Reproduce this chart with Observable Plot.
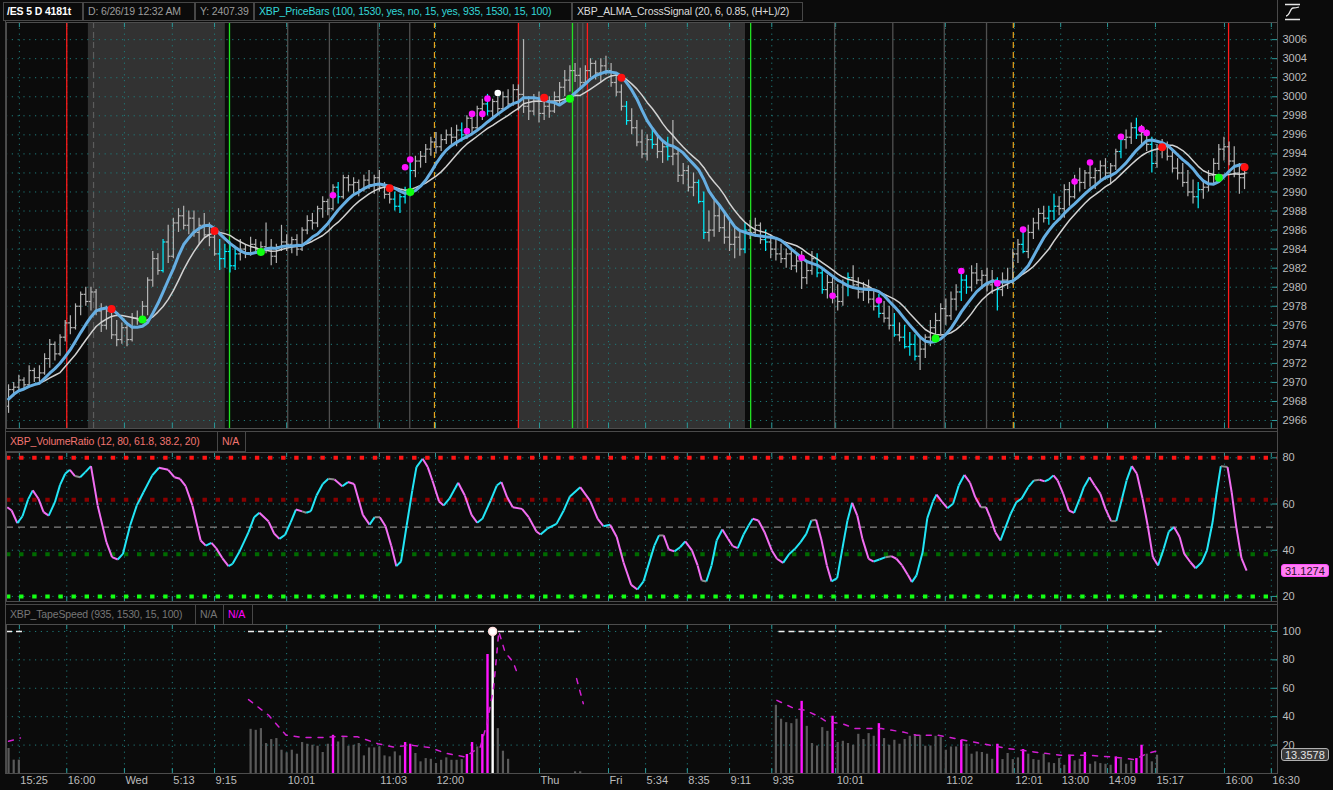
<!DOCTYPE html>
<html>
<head>
<meta charset="utf-8">
<script src="https://cdn.jsdelivr.net/npm/d3@7"></script>
<script src="https://cdn.jsdelivr.net/npm/@observablehq/plot@0.6"></script>
<style>
  html,body{margin:0;padding:0;background:#0b0b0b;}
  #wrap{position:relative;width:1333px;height:790px;background:#0b0b0b;overflow:hidden;font-family:"Liberation Sans",Arial,sans-serif;}
  .box{position:absolute;border:1px solid #474747;box-sizing:border-box;font-size:10.5px;letter-spacing:-0.15px;white-space:nowrap;overflow:hidden;padding-left:4px;}
  .hline{position:absolute;background:#4a4a4a;}
  .panel{position:absolute;left:0;}
  .tag{position:absolute;font-size:11px;line-height:11px;height:13px;box-sizing:border-box;padding:1px 3px;border-radius:3px;white-space:nowrap;}
</style>
</head>
<body>
<div id="wrap">
  <div class="box" style="left:3px;top:2px;width:80px;height:19px;line-height:17px;color:#ffffff;font-weight:bold;padding-left:3px">/ES 5 D 4181t</div>
  <div class="box" style="left:83px;top:2px;width:112px;height:19px;line-height:17px;color:#9c9c9c">D: 6/26/19 12:32 AM</div>
  <div class="box" style="left:195px;top:2px;width:59px;height:19px;line-height:17px;color:#9c9c9c">Y: 2407.39</div>
  <div class="box" style="left:254px;top:2px;width:318px;height:19px;line-height:17px;color:#33d8d8">XBP_PriceBars (100, 1530, yes, no, 15, yes, 935, 1530, 15, 100)</div>
  <div class="box" style="left:572px;top:2px;width:231px;height:19px;line-height:17px;color:#dcdcdc">XBP_ALMA_CrossSignal (20, 6, 0.85, (H+L)/2)</div>
  <svg width="20" height="20" style="position:absolute;left:1283px;top:2px">
    <path d="M2,2.5H17M2,17.5H17" stroke="#e6e6e6" stroke-width="1.6"/>
    <path d="M3,14 C7,14 7,6 10,6 S13,6 16,5" stroke="#e6e6e6" stroke-width="1.3" fill="none"/>
  </svg>

  <div id="price" class="panel" style="top:22px"></div>

  <div class="hline" style="left:5px;top:431px;width:1272px;height:1px"></div>
  <div class="box" style="left:5px;top:431px;width:213px;height:21px;line-height:19px;color:#f07470">XBP_VolumeRatio (12, 80, 61.8, 38.2, 20)</div>
  <div class="box" style="left:217px;top:431px;width:29px;height:21px;line-height:19px;color:#f07470">N/A</div>
  <div id="vol" class="panel" style="top:452px"></div>

  <div class="hline" style="left:5px;top:604px;width:1272px;height:1px"></div>
  <div class="box" style="left:5px;top:604px;width:191px;height:21px;line-height:19px;color:#777777">XBP_TapeSpeed (935, 1530, 15, 100)</div>
  <div class="box" style="left:195px;top:604px;width:29px;height:21px;line-height:19px;color:#777777">N/A</div>
  <div class="box" style="left:223px;top:604px;width:30px;height:21px;line-height:19px;color:#ff00ff">N/A</div>
  <div id="tape" class="panel" style="top:624px"></div>

  <div class="hline" style="left:1277px;top:0px;width:1px;height:774px"></div>
  <div class="hline" style="left:5px;top:21px;width:1px;height:753px"></div>
</div>
<script>
// ---------------- DATA ----------------
// x position = bar number of the 4181-tick chart
const tickIdx = [2.1, 11.3, 22.5, 31.8, 40.0, 54.0, 72.0, 82.9, 103.1, 116.5, 123.7, 131.8, 140.0, 148.2, 160.6, 181.9, 195.3, 204.3, 213.4, 222.7, 236.1, 245.2];
const tickLabels = ["15:25","16:00","Wed","5:13","9:15","10:01","11:03","12:00","Thu","Fri","5:34","8:35","9:11","9:35","10:01","11:02","12:01","13:00","14:09","15:17","16:00","16:30"];

const priceTicks = [2966,2968,2970,2972,2974,2976,2978,2980,2982,2984,2986,2988,2990,2992,2994,2996,2998,3000,3002,3004,3006];
const vrTicks = [20,40,60,80];
const vrLevels = [80, 61.8, 50, 38.2, 20];
const tapeTicks = [20,40,60,80,100];

const opens = [
2967.5,2969.25,2969.5,2970.25,2969.75,2971.25,2970.5,2971.0,2972.5,2974.0,
2973.0,2974.75,2976.25,2975.75,2978.0,2979.25,2978.5,2979.5,2977.5,2976.0,
2977.5,2975.0,2974.5,2975.75,2974.5,2976.75,2976.5,2978.0,2980.75,2983.0,
2981.75,2984.75,2983.25,2986.75,2987.5,2986.5,2987.25,2985.75,2986.5,2985.5,
2985.25,2983.5,2983.0,2983.75,2982.25,2983.5,2984.0,2983.5,2984.5,2984.0,
2984.25,2984.0,2983.25,2984.25,2984.75,2984.5,2985.0,2984.0,2986.0,2987.0,
2986.75,2988.25,2989.0,2988.25,2990.5,2989.5,2991.5,2990.75,2991.0,2990.25,
2991.25,2990.75,2991.5,2990.5,2989.75,2989.25,2988.5,2989.5,2990.0,2992.25,
2993.25,2993.75,2994.5,2995.25,2994.75,2995.5,2996.0,2995.75,2996.5,2996.0,
2997.75,2996.75,2998.75,2999.25,2998.5,2999.5,2998.75,3000.0,2999.25,3000.75,
3000.25,2999.0,2998.5,2999.5,2998.25,2999.0,2998.5,3000.0,3001.0,3001.75,
3002.75,3002.25,3001.5,3002.75,3003.5,3002.5,3003.25,3002.75,3001.5,3000.5,
2999.0,2997.5,2996.75,2995.25,2994.0,2995.5,2995.0,2994.25,2994.75,2993.75,
2994.0,2991.75,2992.25,2990.5,2991.0,2989.0,2985.75,2986.0,2987.5,2986.25,
2985.25,2984.5,2985.25,2984.0,2986.0,2985.75,2986.5,2985.0,2984.75,2984.0,
2983.5,2983.0,2983.5,2982.25,2982.75,2981.0,2981.75,2983.0,2981.5,2979.75,
2980.5,2979.0,2978.5,2980.25,2981.0,2980.25,2979.5,2980.0,2978.75,2978.0,
2977.25,2976.75,2976.0,2975.0,2974.75,2973.75,2974.0,2972.75,2973.5,2974.75,
2975.75,2976.5,2977.75,2977.0,2978.75,2979.5,2980.75,2980.0,2981.5,2980.75,
2981.25,2980.25,2980.75,2979.75,2980.75,2980.5,2983.5,2984.5,2983.75,2985.75,
2986.75,2987.75,2987.25,2988.0,2988.5,2988.25,2990.25,2989.5,2991.25,2991.0,
2992.0,2991.5,2992.25,2992.75,2992.0,2992.75,2994.25,2995.5,2995.75,2996.75,
2996.0,2996.25,2995.0,2993.0,2994.5,2994.75,2993.75,2992.5,2992.0,2991.0,
2990.0,2989.5,2990.25,2990.5,2991.75,2993.0,2994.5,2994.75,2993.25,2992.0,2991.5];

const highs = [
2969.75,2970.0,2970.75,2970.5,2971.75,2971.5,2971.75,2973.0,2974.5,2974.25,
2975.0,2976.5,2977.0,2978.25,2979.5,2980.0,2980.0,2979.75,2978.25,2978.0,
2978.0,2976.5,2976.25,2976.0,2977.25,2977.5,2978.5,2981.0,2983.75,2983.5,
2985.0,2986.5,2987.25,2988.25,2988.5,2988.0,2988.0,2987.25,2987.75,2986.75,
2986.0,2985.0,2984.5,2984.75,2984.25,2985.0,2984.5,2985.25,2985.0,2984.75,
2986.75,2985.0,2984.5,2986.5,2985.5,2985.25,2985.5,2986.25,2987.5,2987.75,
2988.5,2989.5,2989.25,2990.75,2991.0,2991.75,2991.75,2991.5,2991.25,2991.75,
2992.25,2991.75,2992.25,2991.0,2990.5,2990.0,2989.75,2990.5,2993.0,2993.75,
2994.25,2995.0,2995.75,2996.25,2996.0,2996.5,2996.75,2997.0,2997.25,2998.0,
2998.25,2999.0,2999.75,3000.25,2999.75,3000.0,3000.5,3000.75,3001.25,3001.25,
3006.0,3000.0,3000.25,3000.5,2999.75,3000.0,3000.5,3001.5,3002.75,3003.25,
3003.5,3003.0,3003.25,3004.0,3003.75,3004.0,3004.25,3003.5,3002.5,3001.25,
2999.5,2998.75,2997.5,2996.5,2996.0,2996.75,2996.0,2995.25,2995.75,2997.5,
2994.5,2993.0,2992.75,2992.0,2991.25,2990.0,2988.0,2989.25,2988.75,2987.75,
2987.0,2986.25,2986.0,2986.75,2987.0,2987.25,2986.75,2986.0,2985.5,2985.0,
2984.5,2984.0,2984.0,2983.5,2983.75,2982.5,2983.75,2983.5,2982.0,2981.25,
2981.0,2980.25,2980.75,2981.5,2982.25,2981.0,2980.5,2980.75,2979.75,2979.25,
2978.5,2978.0,2977.25,2976.25,2976.0,2975.25,2975.0,2974.75,2975.0,2976.5,
2977.25,2978.25,2978.75,2979.5,2980.25,2981.5,2981.25,2982.25,2982.5,2981.75,
2982.0,2981.75,2981.0,2981.5,2982.0,2984.0,2985.0,2986.0,2986.5,2987.25,
2988.25,2988.5,2988.5,2989.75,2989.5,2990.75,2991.0,2991.75,2992.5,2992.25,
2993.0,2992.5,2993.25,2993.5,2993.0,2994.5,2996.0,2996.5,2997.25,2997.75,
2997.0,2996.5,2995.75,2995.0,2995.5,2995.25,2994.5,2993.5,2993.0,2992.25,
2991.25,2991.0,2991.25,2992.25,2993.5,2995.0,2995.75,2995.25,2994.75,2993.0,2992.25];

const lows = [
2966.75,2968.5,2969.0,2969.25,2969.5,2970.0,2969.75,2970.75,2971.5,2972.25,
2972.75,2974.25,2975.0,2975.5,2977.0,2978.0,2977.5,2977.0,2975.25,2975.5,
2974.5,2973.75,2974.0,2973.75,2974.25,2976.0,2976.25,2977.0,2980.0,2981.25,
2981.5,2982.5,2983.0,2985.75,2986.0,2985.5,2985.25,2984.5,2985.25,2984.25,
2983.25,2981.75,2982.0,2981.5,2981.75,2982.75,2983.0,2983.25,2983.5,2983.25,
2983.5,2982.25,2982.5,2983.75,2983.75,2983.5,2983.25,2983.75,2985.5,2986.0,
2986.25,2987.25,2987.5,2988.0,2988.75,2989.25,2990.0,2989.75,2989.5,2990.0,
2990.25,2989.75,2990.0,2989.25,2988.75,2988.0,2987.75,2988.75,2989.5,2991.5,
2992.5,2993.0,2993.75,2994.0,2994.25,2995.0,2995.0,2994.75,2995.25,2995.5,
2996.0,2996.5,2997.5,2998.0,2997.75,2998.25,2998.5,2998.75,2999.0,2998.5,
2998.25,2997.5,2998.0,2997.25,2997.5,2997.75,2998.25,2999.0,3000.0,3000.5,
3001.5,3000.75,3001.25,3002.0,3001.75,3001.5,3002.25,3001.0,3000.0,2998.5,
2997.0,2996.0,2994.75,2993.5,2993.25,2994.5,2993.5,2993.0,2993.25,2992.75,
2991.0,2990.75,2990.0,2989.5,2988.75,2985.0,2984.75,2985.25,2985.75,2984.5,
2983.75,2983.0,2983.25,2983.5,2985.0,2985.25,2984.5,2983.75,2983.0,2982.75,
2982.5,2982.0,2981.75,2981.5,2979.75,2980.25,2981.25,2981.0,2979.25,2978.75,
2978.25,2977.5,2978.0,2979.0,2979.75,2978.75,2978.5,2978.25,2977.5,2976.75,
2976.25,2975.5,2974.75,2974.25,2973.5,2972.75,2972.25,2971.25,2972.5,2973.75,
2974.5,2975.0,2976.0,2976.5,2977.5,2978.5,2979.25,2979.5,2980.25,2979.75,
2979.5,2979.25,2977.5,2979.0,2979.75,2980.25,2982.5,2983.5,2983.0,2985.0,
2986.0,2986.75,2986.5,2987.0,2987.5,2987.25,2988.5,2989.25,2990.0,2990.25,
2990.5,2990.25,2991.0,2991.25,2990.75,2992.25,2993.5,2994.5,2995.0,2995.5,
2995.0,2994.25,2992.0,2992.5,2993.5,2993.25,2992.0,2991.25,2990.5,2989.5,
2988.75,2988.25,2989.25,2990.0,2990.75,2992.25,2993.25,2992.75,2991.5,2989.75,2990.25];

const closes = [
2969.25,2969.5,2970.25,2969.75,2971.25,2970.5,2971.0,2972.5,2974.0,2973.0,
2974.75,2976.25,2975.75,2978.0,2979.25,2978.5,2979.5,2977.5,2976.0,2977.5,
2975.0,2974.5,2975.75,2974.5,2976.75,2976.5,2978.0,2980.75,2983.0,2981.75,
2984.75,2983.25,2986.75,2987.5,2986.5,2987.25,2985.75,2986.5,2985.5,2985.25,
2983.5,2983.0,2983.75,2982.25,2983.5,2984.0,2983.5,2984.5,2984.0,2984.25,
2984.0,2983.25,2984.25,2984.75,2984.5,2985.0,2984.0,2986.0,2987.0,2986.75,
2988.25,2989.0,2988.25,2990.5,2989.5,2991.5,2990.75,2991.0,2990.25,2991.25,
2990.75,2991.5,2990.5,2989.75,2989.25,2988.5,2989.5,2990.0,2992.25,2993.25,
2993.75,2994.5,2995.25,2994.75,2995.5,2996.0,2995.75,2996.5,2996.0,2997.75,
2996.75,2998.75,2999.25,2998.5,2999.5,2998.75,3000.0,2999.25,3000.75,3000.25,
2999.0,2998.5,2999.5,2998.25,2999.0,2998.5,3000.0,3001.0,3001.75,3002.75,
3002.25,3001.5,3002.75,3003.5,3002.5,3003.25,3002.75,3001.5,3000.5,2999.0,
2997.5,2996.75,2995.25,2994.0,2995.5,2995.0,2994.25,2994.75,2993.75,2994.0,
2991.75,2992.25,2990.5,2991.0,2989.0,2985.75,2986.0,2987.5,2986.25,2985.25,
2984.5,2985.25,2984.0,2986.0,2985.75,2986.5,2985.0,2984.75,2984.0,2983.5,
2983.0,2983.5,2982.25,2982.75,2981.0,2981.75,2983.0,2981.5,2979.75,2980.5,
2979.0,2978.5,2980.25,2981.0,2980.25,2979.5,2980.0,2978.75,2978.0,2977.25,
2976.75,2976.0,2975.0,2974.75,2973.75,2974.0,2972.75,2973.5,2974.75,2975.75,
2976.5,2977.75,2977.0,2978.75,2979.5,2980.75,2980.0,2981.5,2980.75,2981.25,
2980.25,2980.75,2979.75,2980.75,2980.5,2983.5,2984.5,2983.75,2985.75,2986.75,
2987.75,2987.25,2988.0,2988.5,2988.25,2990.25,2989.5,2991.25,2991.0,2992.0,
2991.5,2992.25,2992.75,2992.0,2992.75,2994.25,2995.5,2995.75,2996.75,2996.0,
2996.25,2995.0,2993.0,2994.5,2994.75,2993.75,2992.5,2992.0,2991.0,2990.0,
2989.5,2990.25,2990.5,2991.75,2993.0,2994.5,2994.75,2993.25,2992.0,2991.5,2992.0];

const cyanBars = [30,41,42,43,44,64,75,76,77,78,88,93,120,125,128,134,135,143,147,157,158,163,169,172,174,175,176,185,186,192,197,202,203,216,219,222,231];

const redDotBar = [20, 40, 74, 104, 119, 224, 240];
const redDotPrice = [2977.7, 2985.9, 2990.4, 2999.9, 3002.0, 2994.7, 2992.6];
const greenDotBar = [26, 49, 78, 109, 180, 235];
const greenDotPrice = [2976.6, 2983.7, 2990.0, 2999.8, 2974.6, 2991.5];
const magentaDotBar = [63, 77, 78, 89, 90, 92, 93, 154, 160, 169, 185, 192, 197, 207, 210, 216, 220, 221];
const magentaDotPrice = [2989.65, 2992.6, 2993.4, 2996.4, 2998.2, 2998.2, 2999.8, 2983.1, 2979.1, 2978.6, 2981.7, 2980.4, 2986.05, 2991.1, 2993.1, 2995.8, 2996.6, 2996.2];
const whiteDotBar = [95];
const whiteDotPrice = [3000.4];

// session / event lines (bar numbers)
const redLines = [11.3, 99.0, 112.4, 236.9];
const greenLines = [42.9, 109.5, 144.1];
const grayLines = [54.2, 62.3, 71.7, 77.9, 110.5, 111.5, 160.4, 171.7, 181.7, 189.9];
const grayDashedLines = [16.5];
const orangeDashedLines = [82.7, 195.1];
const shadeFrom = [15.5, 99.0];
const shadeTo = [42.1, 143.1];

// XBP_VolumeRatio: [bar, value]
const vrPoints = [
[-0.25,58.6],[0.6,57.2],[1.7,51.7],[2.7,54.7],[3.8,62],[4.7,65.9],[5.8,62.3],[6.8,56.5],[7.8,55],[9.0,60.8],
[10.0,68.3],[11.0,73.1],[11.9,74.8],[12.9,72.1],[13.9,71.6],[14.9,73.8],[16.0,76.4],[17.3,59.4],[19.0,43.5],[20.1,37],
[21.2,36],[22.2,38.4],[23.6,50.7],[24.9,59.4],[26.2,65.1],[27.9,72.4],[29.2,75.7],[31.0,74.8],[32.2,71.6],[33.3,70.9],
[34.4,67.7],[35.7,59.4],[37.3,44.2],[38.3,42],[39.4,43.2],[40.3,40.9],[41.5,36.6],[42.7,33.1],[43.5,34.1],[44.8,39.2],
[46.6,47.8],[47.7,54.3],[48.7,56.2],[50.5,52.4],[51.6,47.1],[52.6,44.9],[53.7,46.7],[54.8,52.2],[55.8,57.6],[57.0,56.8],
[57.8,56.2],[58.7,56.9],[59.8,63.7],[61.0,68.7],[62.1,70.9],[63.3,70.6],[64.8,67.7],[65.9,69.5],[67.1,68.7],[68.8,55.3],
[70.1,51.1],[71.1,54.3],[72.1,54.3],[73.2,50.4],[74.3,42],[75.3,33.1],[76.2,35.1],[77.3,50.7],[78.4,65.9],[79.2,76],
[80.4,79.6],[81.4,76],[82.3,70.2],[83.6,61.1],[84.5,59.4],[85.6,62.3],[87.3,69.2],[88.6,63.7],[89.9,55.3],[91.0,51.9],
[92.0,53.6],[93.6,61.5],[94.8,68],[95.7,69.5],[96.8,63],[97.9,58.6],[99.7,57.9],[101.0,54.3],[102.5,48.1],[103.3,46.8],
[104.6,49.3],[106.4,51.4],[107.8,57.2],[109.0,63.3],[111.0,67.3],[112.9,61.5],[114.4,53.6],[115.5,50.4],[116.8,51],[118.1,45.7],
[119.4,34.8],[120.9,25],[122.1,23],[123.3,26.5],[125.4,42],[126.3,46.4],[127.2,46.4],[128.2,40.3],[129.3,39.5],[130.4,41.3],
[131.4,43.8],[132.7,39.9],[133.8,33.4],[134.6,26.9],[135.5,26.5],[136.5,33.4],[137.5,44.2],[138.6,49],[139.7,45],[140.6,41.8],
[141.6,40.9],[142.7,46.7],[143.7,50.7],[144.5,53.6],[145.6,52.9],[146.8,47.8],[148.2,39.9],[149.2,36.3],[150.4,34.5],[151.6,38.4],
[152.7,40.6],[153.8,43.5],[154.9,47.1],[155.9,52.9],[156.8,53.2],[157.8,44.9],[158.9,33.4],[159.8,26.5],[160.9,27.9],[161.9,40.6],
[162.9,52.9],[163.8,60.5],[164.8,55],[165.8,44.9],[167.0,36.3],[168.0,35.1],[169.1,36],[170.3,37],[171.4,37.4],[172.4,36.3],
[173.5,33.4],[174.6,29.4],[175.4,26.2],[176.3,29.1],[177.5,39.2],[178.4,53.9],[179.5,61.1],[180.2,64.1],[181.3,60.8],[182.3,58.2],
[183.4,60.1],[184.5,68],[185.6,72.6],[186.7,69.2],[187.7,63],[188.8,58.6],[189.8,58.6],[190.6,54.3],[191.6,47.8],[192.6,44.2],
[193.6,50],[194.6,55.8],[195.7,60.8],[196.7,62.3],[198.0,67.3],[199.1,70.2],[200.2,70.5],[201.2,69.8],[202.0,70.6],[202.9,72.4],
[203.7,70.2],[204.8,64.4],[205.9,57.2],[206.9,56.2],[208.0,62.3],[208.8,67.3],[209.9,71.6],[210.9,68],[212.0,64.4],[213.0,57.9],
[214.1,52.6],[215.1,52.6],[216.2,62.3],[217.1,70.2],[218.1,76.4],[219.1,73.1],[220.2,62.3],[221.2,50.7],[222.2,37],[223.2,33.4],
[224.3,40.6],[225.3,48.1],[226.3,50],[227.4,45.7],[228.3,38.4],[229.5,34.8],[230.5,32.2],[231.7,34.8],[232.7,39.9],[233.8,52.2],
[234.6,65.1],[235.4,76.4],[236.7,76],[237.5,65.1],[238.4,50],[239.4,36.6],[240.4,31.1274]];
const vrLast = 31.1274;

// XBP_TapeSpeed histogram: sessions start at these bars
const tapeStarts = [0, 47, 110, 149];
const tapeSession0 = [17.6, 9.4, 9.4];
const tapeSession1 = [31.1,30.4,31.6,21.1,23.9,24.6,16.4,14.5,16.4,13.6,
  21.8,20.6,19.9,19.2,14.8,20.6,26.9,22.2,25.3,19.2,
  19.9,21.1,12.4,18,18,18.7,12.4,11.7,15.2,12.4,
  21.8,20.6,14.1,8.2,10.5,10,7,9.3,11,9.3,
  9.3,9.8,13.4,21.8,18.7,27.4,83.8,100,31.6,15.7,10];
const tapeSession2 = [1.2, 1.2];
const tapeSession3 = [48,38.2,35.8,35.1,38.2,50.8,33.2,21.1,19.4,32.3,
  29.7,40.3,21.8,22.7,21.1,19.9,27.6,23.9,28.1,26.2,
  35.1,24.6,19.9,23.4,20.6,23.9,26.2,27.4,26.9,19.2,
  19.4,26.2,25.3,16.4,18.7,18.7,23.4,20.6,13.6,15.2,
  14.8,13.6,10,20.6,9.8,14.1,9.8,11,16.9,13.6,
  9.8,9.3,13.6,7.5,7,10.5,5.8,12.9,8.9,10,
  14.8,6.5,8.2,7,6.5,5.8,11.7,9.8,6.5,8.7,
  10.5,19.9,13.6,8.2,12.9];
const tapeMagentaBars = [63,77,78,89,90,92,93,154,160,169,185,192,197,206,209,215,219,220];
const tapeWhiteBars = [94];
// dashed average (null = gap)
const tapeAvg = [[0,22.7],[2.3,25],null,
  [46.6,52],[50.5,41],[53.9,27],[57.4,25.3],[60.9,25.3],[64.3,26.2],[67.8,25.8],[71.7,21],[74.7,18.7],[78.2,19.9],
  [81.7,18.3],[85.1,14.1],[88.6,11.7],[91.6,18.7],[92.9,35.1],[94.2,60.9],[95.2,100],[96.4,85.5],[98,78.4],[98.8,70.3],null,
  [110.3,66.8],[111.6,49.2],null,
  [149.2,51.5],[152.6,45.7],[154.7,44.5],[157.2,40.3],[158.9,36.3],[161.9,35.1],[164.4,31.6],[167,31.6],[169.5,31.6],
  [173.7,29.2],[176.3,26.9],[180.5,26.9],[183.9,24.6],[188.9,21.1],[194,17.6],[199.1,15.2],[204.2,12.9],[209.3,12.9],
  [214.3,11.7],[218.6,9.8],[221.1,14.1],[224,16.9]];
const tapeFullFrom = [-0.4, 46.6, 149.6];
const tapeFullTo = [2.7, 111, 224];
const tapeLast = 13.3578;

// ---------------- BUILD ----------------
const CYAN = "#00f0ff", BARGRAY = "#b4b4b4";
const TEAL = "#1f7a7a", TEALTICK = "#2a9a9a";
const FONT = "'Liberation Sans', Arial, sans-serif";
const xDomain = [-0.4, 246.4];
const W = 1333, ML = 6, MR = 56;
const style = {background: "transparent", color: "#bdbdbd", fontFamily: FONT, fontSize: "11px", overflow: "visible"};
const gridOpts = {stroke: TEAL, strokeOpacity: 1, strokeDasharray: "1.2,4.6", strokeWidth: 1};

const cyanSet = new Set(cyanBars);
const bars = highs.map((h, i) => ({i, o: opens[i], h, l: lows[i], c: closes[i], m: (h + lows[i]) / 2, col: cyanSet.has(i) ? CYAN : BARGRAY}));
const mk = (xs, ys) => xs.map((x, k) => ({x, y: ys[k]}));
const shades = shadeFrom.map((a, k) => ({a, b: shadeTo[k]}));

function edgeTicks(h) {
  return [
    Plot.ruleX(tickIdx, {stroke: TEALTICK, insetTop: h - 5}),
    Plot.ruleX(tickIdx, {stroke: TEALTICK, insetBottom: h - 5})
  ];
}

const PH = 406;
const pricePlot = Plot.plot({
  width: W, height: PH, marginLeft: ML, marginRight: MR, marginTop: 0, marginBottom: 0,
  style, x: {domain: xDomain, axis: null}, y: {domain: [2965.16, 3007.8], axis: null},
  color: {type: "identity"},
  marks: [
    Plot.rect(shades, {x1: "a", x2: "b", fill: "#323232"}),
    Plot.gridY(priceTicks, gridOpts),
    Plot.gridX(tickIdx, gridOpts),
    ...edgeTicks(PH),
    Plot.ruleY(priceTicks, {stroke: TEALTICK, insetLeft: (W - ML - MR) - 5}),
    Plot.ruleX(grayLines, {stroke: "#505050", strokeWidth: 1.3}),
    Plot.ruleX(grayDashedLines, {stroke: "#5c5c5c", strokeWidth: 1.2, strokeDasharray: "6,4"}),
    Plot.ruleX(orangeDashedLines, {stroke: "#e8a51c", strokeWidth: 1.2, strokeDasharray: "6,4"}),
    Plot.ruleX(greenLines, {stroke: "#22e022", strokeWidth: 1.3}),
    Plot.ruleX(redLines, {stroke: "#ff1a1a", strokeWidth: 1.3}),
    Plot.ruleX(bars, {x: "i", y1: "l", y2: "h", stroke: "col", strokeWidth: 1.2}),
    Plot.link(bars, {x1: d => d.i - 0.45, x2: "i", y1: "o", y2: "o", stroke: "col", strokeWidth: 1.2}),
    Plot.link(bars, {x1: "i", x2: d => d.i + 0.45, y1: "c", y2: "c", stroke: "col", strokeWidth: 1.2}),
    Plot.line(bars, Plot.windowY({k: 11, anchor: "end"}, {x: "i", y: "m", stroke: "#d2d2d2", strokeWidth: 1.5})),
    Plot.line(bars, Plot.windowY({k: 7, anchor: "end"}, {x: "i", y: "m", stroke: "#66aee2", strokeWidth: 3})),
    Plot.dot(mk(magentaDotBar, magentaDotPrice), {x: "x", y: "y", r: 3.3, fill: "#ff10ff"}),
    Plot.dot(mk(whiteDotBar, whiteDotPrice), {x: "x", y: "y", r: 3.3, fill: "#ffffff"}),
    Plot.dot(mk(redDotBar, redDotPrice), {x: "x", y: "y", r: 4, fill: "#ff1010"}),
    Plot.dot(mk(greenDotBar, greenDotPrice), {x: "x", y: "y", r: 4, fill: "#10ff10"}),
    Plot.axisY({anchor: "right", ticks: priceTicks, tickFormat: "d", tickSize: 0, tickPadding: 5, color: "#bdbdbd"}),
    Plot.frame({stroke: "#4d4d4d"})
  ]
});
document.getElementById("price").appendChild(pricePlot);

// Volume ratio
const VH = 149;
const vrSegs = d3.pairs(vrPoints).map(([a, b]) => {
  const d = b[1] - a[1];
  return {x1: a[0], y1: a[1], x2: b[0], y2: b[1], c: d > 0.6 ? "#22e6f6" : d < -0.6 ? "#f26ef2" : "#8c8c8c"};
});
const levelStyle = [
  {stroke: "#ff1414", strokeWidth: 4, strokeDasharray: "4.4,8.7"},
  {stroke: "#8a0000", strokeWidth: 4, strokeDasharray: "4.4,8.7"},
  {stroke: "#a0a0a0", strokeWidth: 1, strokeDasharray: "7,5"},
  {stroke: "#006a00", strokeWidth: 4, strokeDasharray: "4.4,8.7"},
  {stroke: "#14ff14", strokeWidth: 4, strokeDasharray: "4.4,8.7"}
];
const volPlot = Plot.plot({
  width: W, height: VH, marginLeft: ML, marginRight: MR, marginTop: 0, marginBottom: 0,
  style, x: {domain: xDomain, axis: null}, y: {domain: [17.8, 82.3], axis: null},
  color: {type: "identity"},
  marks: [
    Plot.gridY(vrTicks, gridOpts),
    Plot.gridX(tickIdx, gridOpts),
    ...edgeTicks(VH),
    Plot.ruleY(vrTicks, {stroke: TEALTICK, insetLeft: (W - ML - MR) - 5}),
    ...vrLevels.map((v, k) => Plot.ruleY([v], levelStyle[k])),
    Plot.link(vrSegs, {x1: "x1", y1: "y1", x2: "x2", y2: "y2", stroke: "c", strokeWidth: 2}),
    Plot.axisY({anchor: "right", ticks: vrTicks, tickFormat: "d", tickSize: 0, tickPadding: 5, color: "#bdbdbd"}),
    Plot.frame({stroke: "#4d4d4d"})
  ]
});
document.getElementById("vol").appendChild(volPlot);

// Tape speed
const TH = 166, TB = 17;
const magSet = new Set(tapeMagentaBars), whiteSet = new Set(tapeWhiteBars);
const tape = [];
[tapeSession0, tapeSession1, tapeSession2, tapeSession3].forEach((s, k) => {
  s.forEach((v, j) => {
    const i = tapeStarts[k] + j;
    tape.push({i, v, col: whiteSet.has(i) ? "#ffffff" : magSet.has(i) ? "#ff14ff" : "#5a5a5a", w: whiteSet.has(i) ? 2.4 : magSet.has(i) ? 2.4 : 2.2});
  });
});
const avgData = tapeAvg.map(p => p ? {x: p[0], y: p[1]} : {x: NaN, y: NaN});
const fullSegs = tapeFullFrom.map((a, k) => ({a, b: tapeFullTo[k]}));
const tapePlot = Plot.plot({
  width: W, height: TH, marginLeft: ML, marginRight: MR, marginTop: 0, marginBottom: TB,
  style, x: {domain: xDomain, axis: null}, y: {domain: [0, 104.9], axis: null},
  color: {type: "identity"},
  marks: [
    Plot.gridY(tapeTicks, gridOpts),
    Plot.gridX(tickIdx, gridOpts),
    ...edgeTicks(TH - TB),
    Plot.ruleY(tapeTicks, {stroke: TEALTICK, insetLeft: (W - ML - MR) - 5}),
    Plot.ruleY(fullSegs, {y: 100, x1: "a", x2: "b", stroke: "#f0f0f0", strokeWidth: 1.4, strokeDasharray: "6,4"}),
    Plot.ruleX(tape, {x: "i", y1: 0, y2: "v", stroke: "col", strokeWidth: "w"}),
    Plot.dot(tape.filter(d => whiteSet.has(d.i)), {x: "i", y: "v", r: 4, fill: "#ffffff", stroke: "#ffdddd"}),
    Plot.line(avgData, {x: "x", y: "y", stroke: "#d21ed2", strokeWidth: 1.5, strokeDasharray: "5,7"}),
    Plot.axisY({anchor: "right", ticks: tapeTicks, tickFormat: "d", tickSize: 0, tickPadding: 5, color: "#bdbdbd"}),
    Plot.text(tickIdx, {x: d => d, text: (d, i) => tickLabels[i], frameAnchor: "bottom", dy: 10, dx: 1, textAnchor: "start", fill: "#bdbdbd", fontSize: 11}),
    Plot.frame({stroke: "#4d4d4d"})
  ]
});
document.getElementById("tape").appendChild(tapePlot);

// value tags
const wrap = document.getElementById("wrap");
function tag(text, topPx, bg, fg, border) {
  const d = document.createElement("div");
  d.className = "tag";
  d.textContent = text;
  d.style.left = "1281px";
  d.style.top = (topPx - 6.5) + "px";
  d.style.background = bg; d.style.color = fg; d.style.border = "1px solid " + border;
  wrap.appendChild(d);
}
tag(String(vrLast), 452 + volPlot.scale("y").apply(vrLast), "#ff80f2", "#2a0a2a", "#ff4cff");
tag(String(tapeLast), 624 + tapePlot.scale("y").apply(tapeLast), "#3a3a3a", "#e4e4e4", "#b0b0b0");
</script>
</body>
</html>
